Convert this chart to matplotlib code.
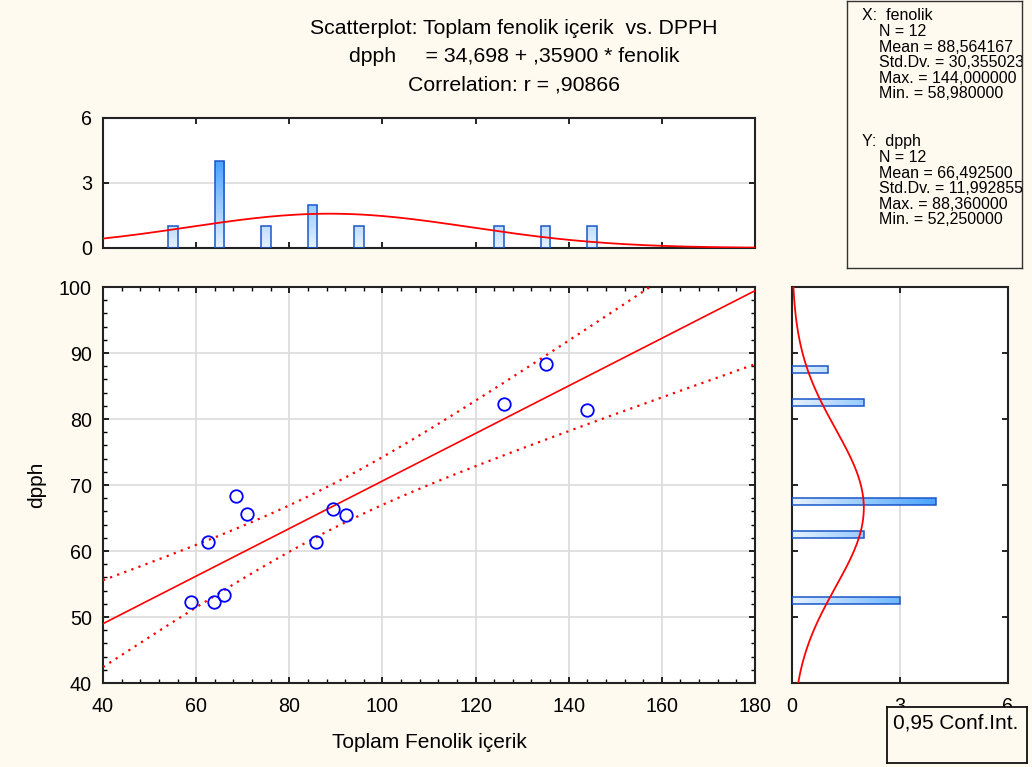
import numpy as np
import matplotlib.pyplot as plt
from matplotlib.patches import Rectangle
from matplotlib.colors import LinearSegmentedColormap
from matplotlib.ticker import MultipleLocator

plt.rcParams['font.family'] = ['Liberation Sans', 'DejaVu Sans']

# data
fenolik = [58.98, 62.5, 63.8, 66.0, 68.6, 71.0, 85.8, 89.4, 92.2, 126.2, 135.2, 144.0]
dpph = [52.25, 61.3, 52.3, 53.4, 68.3, 65.6, 61.3, 66.4, 65.4, 82.3, 88.36, 81.3]

title_lines = ["Scatterplot: Toplam fenolik içerik  vs. DPPH",
               "dpph     = 34,698 + ,35900 * fenolik",
               "Correlation: r = ,90866"]
stats_x = ["N = 12", "Mean = 88,564167", "Std.Dv. = 30,355023",
           "Max. = 144,000000", "Min. = 58,980000"]
stats_y = ["N = 12", "Mean = 66,492500", "Std.Dv. = 11,992855",
           "Max. = 88,360000", "Min. = 52,250000"]

x = np.array(fenolik)
y = np.array(dpph)
n = len(x)

bg = '#fffaef'
red = '#ff0000'
edge = '#1a56c8'
grid_c = '#dcdcdc'
cmap = LinearSegmentedColormap.from_list('bars', ['#e6f2ff', '#4aa3ff'])
tick_fs = 14.2

fig = plt.figure(figsize=(10.32, 7.67), dpi=100, facecolor=bg)

ax = fig.add_axes([0.0998, 0.1095, 0.6318, 0.5163])
ax_top = fig.add_axes([0.0998, 0.6767, 0.6318, 0.1695])
ax_r = fig.add_axes([0.7674, 0.1095, 0.2093, 0.5163])

def style(a):
    a.set_facecolor('white')
    for s in a.spines.values():
        s.set_linewidth(1.5)
        s.set_color('#222222')
    a.tick_params(which='both', direction='in', top=True, right=True,
                  labelsize=tick_fs, length=4, width=1.2, pad=8)
    a.tick_params(which='minor', length=3, width=1)
    a.tick_params(axis='x', pad=10)

for a in (ax, ax_top, ax_r):
    style(a)

# regression + confidence band
b, a0 = np.polyfit(x, y, 1)
xs = np.linspace(40, 180, 300)
fit = a0 + b * xs
res = y - (a0 + b * x)
s = np.sqrt(np.sum(res ** 2) / (n - 2))
sxx = np.sum((x - x.mean()) ** 2)
t = 2.228
half = t * s * np.sqrt(1 / n + (xs - x.mean()) ** 2 / sxx)

ax.plot(xs, fit, color=red, lw=1.2, zorder=3)
ax.plot(xs, fit + half, color=red, lw=1.6, ls=(0, (1, 2.4)), zorder=3)
ax.plot(xs, fit - half, color=red, lw=1.6, ls=(0, (1, 2.4)), zorder=3)
ax.plot(x, y, 'o', ms=9, mfc='none', mec='#0000ff', mew=1.3, zorder=4)

ax.set_xlim(40, 180)
ax.set_ylim(40, 100)
ax.xaxis.set_major_locator(MultipleLocator(20))
ax.xaxis.set_minor_locator(MultipleLocator(4))
ax.yaxis.set_major_locator(MultipleLocator(10))
ax.yaxis.set_minor_locator(MultipleLocator(2))
ax.grid(True, which='major', color=grid_c, lw=1.2)
ax.set_axisbelow(True)
ax.set_xlabel("Toplam Fenolik içerik", fontsize=15, labelpad=12)
ax.set_ylabel("dpph", fontsize=15, labelpad=9)


def grad_bar(a, x0, y0, w, h, vertical):
    rect = Rectangle((x0, y0), w, h, fc='none', ec=edge, lw=1.1, zorder=3)
    a.add_patch(rect)
    if vertical:
        g = np.linspace(0, h, 60).reshape(-1, 1)
    else:
        g = np.linspace(0, w, 60).reshape(1, -1)
    im = a.imshow(g, extent=(x0, x0 + w, y0, y0 + h), origin='lower',
                  cmap=cmap, vmin=0, vmax=4, aspect='auto', zorder=2)
    im.set_clip_path(rect)


# top histogram of fenolik
xbins = np.arange(40, 181, 10)
xc, _ = np.histogram(x, bins=xbins)
for left, c in zip(xbins[:-1], xc):
    if c > 0:
        grad_bar(ax_top, left + 4, 0, 2, c, True)
sx = x.std(ddof=1)
pdfx = n * 10 * np.exp(-0.5 * ((xs - x.mean()) / sx) ** 2) / (sx * np.sqrt(2 * np.pi))
ax_top.plot(xs, pdfx, color=red, lw=1.3, zorder=4)
ax_top.set_xlim(40, 180)
ax_top.set_ylim(0, 6)
ax_top.set_yticks([0, 3, 6])
ax_top.xaxis.set_major_locator(MultipleLocator(20))
ax_top.tick_params(axis='x', labelbottom=False)
ax_top.grid(True, axis='y', color=grid_c, lw=1.2)
ax_top.set_axisbelow(True)

# right histogram of dpph
ybins = np.arange(40, 101, 5)
yc, _ = np.histogram(y, bins=ybins)
for low, c in zip(ybins[:-1], yc):
    if c > 0:
        grad_bar(ax_r, 0, low + 2, c, 1, False)
ys = np.linspace(40, 100, 300)
sy = y.std(ddof=1)
pdfy = n * 5 * np.exp(-0.5 * ((ys - y.mean()) / sy) ** 2) / (sy * np.sqrt(2 * np.pi))
ax_r.plot(pdfy, ys, color=red, lw=1.3, zorder=4)
ax_r.set_xlim(0, 6)
ax_r.set_ylim(40, 100)
ax_r.set_xticks([0, 3, 6])
ax_r.yaxis.set_major_locator(MultipleLocator(10))
ax_r.tick_params(axis='y', labelleft=False)
ax_r.grid(True, axis='x', color=grid_c, lw=1.2)
ax_r.set_axisbelow(True)

# title
for i, line in enumerate(title_lines):
    fig.text(0.498, 1 - (28 + 28.5 * i) / 767, line, ha='center', va='center', fontsize=15.3)

# statistics box
ax_s = fig.add_axes([0.8207, 0.6506, 0.1696, 0.3475])
ax_s.set_facecolor(bg)
ax_s.set_xticks([])
ax_s.set_yticks([])
for sp in ax_s.spines.values():
    sp.set_linewidth(1.0)
    sp.set_color('#333333')
box_h = 0.3475 * 767


def put(px, py, txt):
    ax_s.text((px - 847) / 175, 1 - (py - 1.5) / box_h, txt, transform=ax_s.transAxes,
              ha='left', va='center', fontsize=11.5, clip_on=True)


put(862, 16, "X:  fenolik")
for i, txt in enumerate(stats_x):
    put(879, 32 + 15.4 * i, txt)
put(862, 142, "Y:  dpph")
for i, txt in enumerate(stats_y):
    put(879, 158 + 15.4 * i, txt)

# confidence box
ax_c = fig.add_axes([0.8595, 0.0052, 0.1357, 0.073])
ax_c.set_facecolor(bg)
ax_c.set_xticks([])
ax_c.set_yticks([])
for sp in ax_c.spines.values():
    sp.set_linewidth(1.3)
    sp.set_color('#111111')
ax_c.text(0.04, 0.72, "0,95 Conf.Int.", transform=ax_c.transAxes,
          ha='left', va='center', fontsize=15)

fig.savefig('out.png', dpi=100, facecolor=bg)
